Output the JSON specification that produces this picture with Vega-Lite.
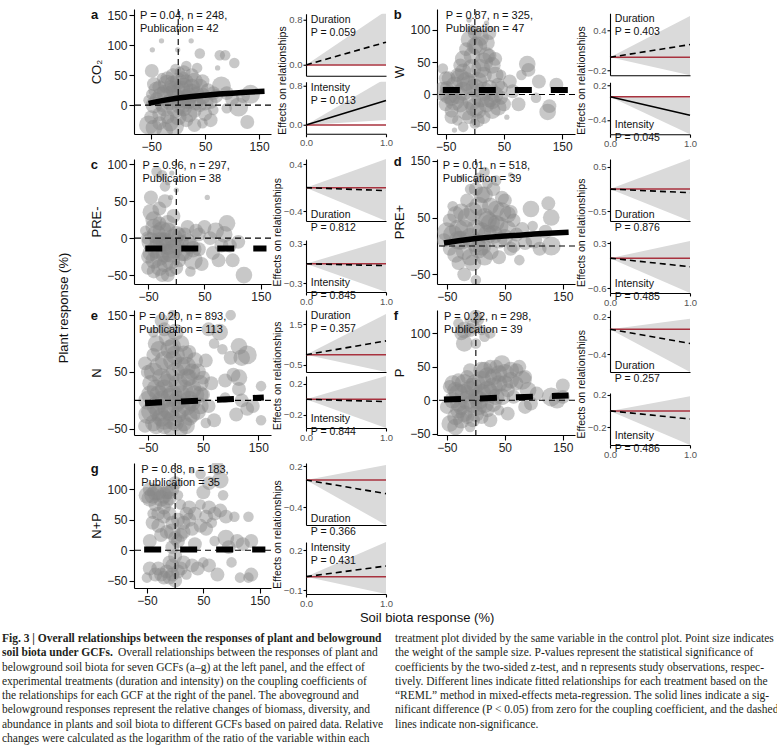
{
"$schema": "https://vega.github.io/schema/vega-lite/v6.json",
"padding": {"left": 2, "right": 0, "top": 8, "bottom": 0},
"config": {
  "view": {"stroke": null},
  "font": "Liberation Sans",
  "axis": {"grid": false, "domainColor": "#000", "tickColor": "#000", "labelColor": "#222", "labelFontSize": 12, "titleFontSize": 13, "titleFontWeight": "normal", "titleColor": "#111", "labelFlush": false, "labelOverlap": false, "tickSize": 5, "domainWidth": 1.1, "tickWidth": 1.1, "labelPadding": 2, "titlePadding": 3},
  "title": {"fontWeight": "normal", "color": "#111"},
  "text": {"color": "#111"}
},
"datasets": {
  "pts": [
{"p":"a","x":-48,"y":92,"w":1},{"p":"a","x":-31,"y":107,"w":1},{"p":"a","x":-1,"y":92,"w":1},{"p":"a","x":24,"y":107,"w":1},{"p":"a","x":40,"y":86,"w":2},{"p":"a","x":77,"y":83,"w":2},{"p":"a","x":87,"y":83,"w":2},{"p":"a","x":104,"y":70,"w":2},{"p":"a","x":73,"y":62,"w":1},{"p":"a","x":-49,"y":57,"w":3},{"p":"a","x":15,"y":65,"w":2},{"p":"a","x":35,"y":62,"w":2},{"p":"a","x":3,"y":55,"w":2},{"p":"a","x":-20,"y":45,"w":3},{"p":"a","x":-35,"y":30,"w":3},{"p":"a","x":-25,"y":20,"w":4},{"p":"a","x":-10,"y":35,"w":4},{"p":"a","x":5,"y":25,"w":5},{"p":"a","x":15,"y":40,"w":3},{"p":"a","x":25,"y":30,"w":4},{"p":"a","x":35,"y":20,"w":3},{"p":"a","x":45,"y":15,"w":4},{"p":"a","x":55,"y":25,"w":3},{"p":"a","x":-40,"y":10,"w":3},{"p":"a","x":-50,"y":18,"w":2},{"p":"a","x":-30,"y":0,"w":3},{"p":"a","x":-15,"y":5,"w":4},{"p":"a","x":0,"y":10,"w":5},{"p":"a","x":10,"y":-5,"w":4},{"p":"a","x":20,"y":5,"w":3},{"p":"a","x":30,"y":-10,"w":3},{"p":"a","x":40,"y":0,"w":3},{"p":"a","x":60,"y":5,"w":3},{"p":"a","x":70,"y":15,"w":3},{"p":"a","x":80,"y":32,"w":5},{"p":"a","x":90,"y":20,"w":3},{"p":"a","x":100,"y":10,"w":3},{"p":"a","x":112,"y":-3,"w":5},{"p":"a","x":120,"y":15,"w":3},{"p":"a","x":134,"y":18,"w":5},{"p":"a","x":128,"y":-28,"w":3},{"p":"a","x":-55,"y":-33,"w":5},{"p":"a","x":-45,"y":-38,"w":4},{"p":"a","x":-7,"y":-35,"w":5},{"p":"a","x":30,"y":-33,"w":3},{"p":"a","x":50,"y":-15,"w":3},{"p":"a","x":-20,"y":-20,"w":3},{"p":"a","x":0,"y":-20,"w":4},{"p":"a","x":15,"y":-25,"w":3},{"p":"a","x":-35,"y":-15,"w":3},{"p":"a","x":65,"y":-8,"w":2},{"p":"a","x":-5,"y":60,"w":2},{"p":"a","x":-15,"y":30,"w":3},{"p":"a","x":8,"y":45,"w":3},{"p":"a","x":45,"y":40,"w":3},{"p":"a","x":-30,"y":45,"w":2},{"p":"a","x":20,"y":15,"w":4},{"p":"a","x":-45,"y":35,"w":3},{"p":"a","x":60,"y":-25,"w":3},{"p":"a","x":-25,"y":-42,"w":4},{"p":"a","x":90,"y":-5,"w":2},{"p":"a","x":-10,"y":18,"w":5},{"p":"a","x":32,"y":5,"w":4},
{"p":"a","x":-40,"y":25,"w":4},{"p":"a","x":-30,"y":15,"w":5},{"p":"a","x":-20,"y":35,"w":5},{"p":"a","x":-5,"y":25,"w":5},{"p":"a","x":10,"y":30,"w":5},{"p":"a","x":25,"y":20,"w":5},{"p":"a","x":40,"y":30,"w":4},{"p":"a","x":-45,"y":0,"w":4},{"p":"a","x":-25,"y":-5,"w":4},{"p":"a","x":5,"y":0,"w":5},{"p":"a","x":15,"y":10,"w":5},{"p":"a","x":30,"y":40,"w":4},{"p":"a","x":-10,"y":50,"w":3},{"p":"a","x":50,"y":5,"w":4},{"p":"a","x":-35,"y":-30,"w":3},{"p":"a","x":-15,"y":-30,"w":4},{"p":"a","x":20,"y":-15,"w":4},{"p":"a","x":0,"y":40,"w":4},{"p":"a","x":10,"y":55,"w":3},{"p":"a","x":-50,"y":-20,"w":3},{"p":"a","x":65,"y":20,"w":3},{"p":"a","x":45,"y":-30,"w":2},{"p":"a","x":25,"y":50,"w":3},{"p":"a","x":-5,"y":-5,"w":5},{"p":"a","x":-55,"y":8,"w":2},
{"p":"b","x":-55,"y":5,"w":5},{"p":"b","x":-48,"y":10,"w":3},{"p":"b","x":-40,"y":-5,"w":4},{"p":"b","x":-35,"y":15,"w":4},{"p":"b","x":-30,"y":30,"w":3},{"p":"b","x":-25,"y":45,"w":3},{"p":"b","x":-20,"y":55,"w":4},{"p":"b","x":-15,"y":70,"w":3},{"p":"b","x":-10,"y":85,"w":4},{"p":"b","x":0,"y":95,"w":3},{"p":"b","x":5,"y":75,"w":5},{"p":"b","x":10,"y":88,"w":4},{"p":"b","x":20,"y":80,"w":4},{"p":"b","x":25,"y":60,"w":3},{"p":"b","x":15,"y":50,"w":5},{"p":"b","x":30,"y":45,"w":4},{"p":"b","x":35,"y":30,"w":4},{"p":"b","x":40,"y":15,"w":3},{"p":"b","x":-5,"y":40,"w":5},{"p":"b","x":-15,"y":20,"w":5},{"p":"b","x":0,"y":10,"w":5},{"p":"b","x":10,"y":-5,"w":5},{"p":"b","x":20,"y":-15,"w":4},{"p":"b","x":30,"y":-10,"w":4},{"p":"b","x":45,"y":-5,"w":3},{"p":"b","x":50,"y":-15,"w":3},{"p":"b","x":-25,"y":-15,"w":4},{"p":"b","x":-40,"y":-25,"w":3},{"p":"b","x":-30,"y":-40,"w":2},{"p":"b","x":-20,"y":-50,"w":2},{"p":"b","x":-10,"y":-35,"w":3},{"p":"b","x":0,"y":-45,"w":2},{"p":"b","x":5,"y":-25,"w":4},{"p":"b","x":15,"y":30,"w":4},{"p":"b","x":25,"y":10,"w":4},{"p":"b","x":-45,"y":25,"w":3},{"p":"b","x":-50,"y":-15,"w":3},{"p":"b","x":-5,"y":-10,"w":5},{"p":"b","x":-20,"y":5,"w":5},{"p":"b","x":35,"y":55,"w":3},{"p":"b","x":60,"y":20,"w":3},{"p":"b","x":65,"y":5,"w":3},{"p":"b","x":75,"y":-15,"w":3},{"p":"b","x":55,"y":-35,"w":1},{"p":"b","x":90,"y":47,"w":4},{"p":"b","x":92,"y":38,"w":3},{"p":"b","x":110,"y":20,"w":3},{"p":"b","x":125,"y":-27,"w":4},{"p":"b","x":128,"y":-18,"w":3},{"p":"b","x":140,"y":15,"w":3},{"p":"b","x":105,"y":-5,"w":2},{"p":"b","x":-35,"y":-55,"w":1},{"p":"b","x":-10,"y":115,"w":1},{"p":"b","x":20,"y":110,"w":1},{"p":"b","x":45,"y":30,"w":2},{"p":"b","x":-55,"y":40,"w":2},{"p":"b","x":80,"y":30,"w":2},
{"p":"b","x":-45,"y":0,"w":5},{"p":"b","x":-35,"y":-10,"w":5},{"p":"b","x":-25,"y":25,"w":5},{"p":"b","x":-10,"y":15,"w":5},{"p":"b","x":5,"y":20,"w":5},{"p":"b","x":15,"y":5,"w":5},{"p":"b","x":25,"y":-5,"w":5},{"p":"b","x":35,"y":0,"w":4},{"p":"b","x":-15,"y":-25,"w":5},{"p":"b","x":0,"y":-20,"w":5},{"p":"b","x":10,"y":40,"w":5},{"p":"b","x":20,"y":60,"w":4},{"p":"b","x":-5,"y":60,"w":4},{"p":"b","x":-20,"y":35,"w":4},{"p":"b","x":30,"y":-25,"w":4},{"p":"b","x":40,"y":-20,"w":4},{"p":"b","x":-30,"y":0,"w":5},{"p":"b","x":-40,"y":-35,"w":3},{"p":"b","x":5,"y":-40,"w":3},{"p":"b","x":15,"y":-35,"w":3},{"p":"b","x":-50,"y":25,"w":3},{"p":"b","x":0,"y":75,"w":4},{"p":"b","x":-5,"y":100,"w":2},{"p":"b","x":25,"y":95,"w":3},{"p":"b","x":45,"y":10,"w":3},
{"p":"c","x":-35,"y":90,"w":2},{"p":"c","x":-25,"y":85,"w":2},{"p":"c","x":-15,"y":75,"w":1},{"p":"c","x":-20,"y":70,"w":2},{"p":"c","x":-45,"y":35,"w":4},{"p":"c","x":-30,"y":40,"w":3},{"p":"c","x":-10,"y":55,"w":1},{"p":"c","x":-40,"y":15,"w":4},{"p":"c","x":-50,"y":0,"w":3},{"p":"c","x":-35,"y":5,"w":5},{"p":"c","x":-25,"y":-5,"w":5},{"p":"c","x":-15,"y":10,"w":4},{"p":"c","x":-5,"y":0,"w":5},{"p":"c","x":-45,"y":-20,"w":4},{"p":"c","x":-30,"y":-25,"w":5},{"p":"c","x":-20,"y":-35,"w":4},{"p":"c","x":-10,"y":-20,"w":5},{"p":"c","x":0,"y":-10,"w":4},{"p":"c","x":5,"y":-30,"w":3},{"p":"c","x":-40,"y":-45,"w":3},{"p":"c","x":-25,"y":-50,"w":3},{"p":"c","x":-10,"y":-45,"w":2},{"p":"c","x":10,"y":-5,"w":3},{"p":"c","x":15,"y":-20,"w":4},{"p":"c","x":25,"y":-10,"w":4},{"p":"c","x":30,"y":-30,"w":5},{"p":"c","x":40,"y":-15,"w":3},{"p":"c","x":35,"y":10,"w":3},{"p":"c","x":50,"y":15,"w":3},{"p":"c","x":20,"y":15,"w":3},{"p":"c","x":-5,"y":30,"w":3},{"p":"c","x":55,"y":55,"w":1},{"p":"c","x":60,"y":0,"w":3},{"p":"c","x":70,"y":10,"w":4},{"p":"c","x":85,"y":5,"w":4},{"p":"c","x":90,"y":20,"w":4},{"p":"c","x":95,"y":-10,"w":3},{"p":"c","x":75,"y":-30,"w":3},{"p":"c","x":100,"y":-30,"w":3},{"p":"c","x":120,"y":-50,"w":4},{"p":"c","x":110,"y":-5,"w":3},{"p":"c","x":-50,"y":-40,"w":3},{"p":"c","x":-15,"y":-10,"w":5},{"p":"c","x":5,"y":5,"w":3},{"p":"c","x":45,"y":-35,"w":3},{"p":"c","x":-30,"y":20,"w":3},{"p":"c","x":-55,"y":10,"w":2},{"p":"c","x":25,"y":-45,"w":2},{"p":"c","x":-8,"y":88,"w":1},{"p":"c","x":0,"y":65,"w":1},
{"p":"c","x":-45,"y":-5,"w":5},{"p":"c","x":-35,"y":-15,"w":5},{"p":"c","x":-25,"y":10,"w":5},{"p":"c","x":-20,"y":-20,"w":5},{"p":"c","x":-10,"y":-30,"w":5},{"p":"c","x":-5,"y":-15,"w":5},{"p":"c","x":0,"y":5,"w":4},{"p":"c","x":-30,"y":-40,"w":4},{"p":"c","x":-40,"y":-30,"w":4},{"p":"c","x":-15,"y":20,"w":4},{"p":"c","x":-20,"y":-5,"w":5},{"p":"c","x":10,"y":-20,"w":4},{"p":"c","x":20,"y":-5,"w":4},{"p":"c","x":30,"y":-15,"w":4},{"p":"c","x":-50,"y":-25,"w":3},{"p":"c","x":-30,"y":-5,"w":5},{"p":"c","x":-40,"y":25,"w":4},{"p":"c","x":0,"y":-40,"w":3},{"p":"c","x":-15,"y":-50,"w":3},{"p":"c","x":15,"y":5,"w":3},{"p":"c","x":40,"y":5,"w":3},{"p":"c","x":-45,"y":55,"w":3},{"p":"c","x":-20,"y":50,"w":3},{"p":"c","x":65,"y":-20,"w":3},{"p":"c","x":80,"y":-10,"w":3},
{"p":"d","x":-50,"y":25,"w":5},{"p":"d","x":-45,"y":45,"w":3},{"p":"d","x":-40,"y":70,"w":2},{"p":"d","x":-35,"y":55,"w":4},{"p":"d","x":-30,"y":30,"w":5},{"p":"d","x":-25,"y":10,"w":5},{"p":"d","x":-20,"y":-10,"w":4},{"p":"d","x":-15,"y":80,"w":3},{"p":"d","x":-10,"y":100,"w":2},{"p":"d","x":-5,"y":60,"w":5},{"p":"d","x":0,"y":30,"w":5},{"p":"d","x":5,"y":120,"w":2},{"p":"d","x":10,"y":90,"w":4},{"p":"d","x":15,"y":50,"w":5},{"p":"d","x":20,"y":20,"w":5},{"p":"d","x":25,"y":70,"w":4},{"p":"d","x":30,"y":100,"w":3},{"p":"d","x":35,"y":40,"w":4},{"p":"d","x":40,"y":10,"w":4},{"p":"d","x":45,"y":60,"w":5},{"p":"d","x":50,"y":80,"w":3},{"p":"d","x":55,"y":30,"w":4},{"p":"d","x":60,"y":-5,"w":3},{"p":"d","x":65,"y":45,"w":3},{"p":"d","x":70,"y":20,"w":3},{"p":"d","x":75,"y":-25,"w":2},{"p":"d","x":-10,"y":-20,"w":4},{"p":"d","x":5,"y":-5,"w":5},{"p":"d","x":25,"y":-10,"w":4},{"p":"d","x":-30,"y":-30,"w":3},{"p":"d","x":-20,"y":-50,"w":3},{"p":"d","x":0,"y":-60,"w":2},{"p":"d","x":-45,"y":-5,"w":3},{"p":"d","x":15,"y":130,"w":2},{"p":"d","x":60,"y":125,"w":1},{"p":"d","x":95,"y":65,"w":4},{"p":"d","x":98,"y":35,"w":2},{"p":"d","x":125,"y":75,"w":3},{"p":"d","x":130,"y":50,"w":4},{"p":"d","x":130,"y":0,"w":5},{"p":"d","x":120,"y":25,"w":3},{"p":"d","x":100,"y":10,"w":4},{"p":"d","x":110,"y":-5,"w":3},{"p":"d","x":85,"y":5,"w":3},{"p":"d","x":-55,"y":10,"w":3},{"p":"d","x":35,"y":115,"w":2},{"p":"d","x":-25,"y":120,"w":1},{"p":"d","x":10,"y":0,"w":5},{"p":"d","x":40,"y":-20,"w":3},{"p":"d","x":80,"y":30,"w":3},
{"p":"d","x":-40,"y":20,"w":5},{"p":"d","x":-30,"y":10,"w":5},{"p":"d","x":-20,"y":30,"w":5},{"p":"d","x":-10,"y":15,"w":5},{"p":"d","x":0,"y":5,"w":5},{"p":"d","x":10,"y":25,"w":5},{"p":"d","x":20,"y":45,"w":5},{"p":"d","x":30,"y":20,"w":5},{"p":"d","x":40,"y":35,"w":5},{"p":"d","x":50,"y":15,"w":4},{"p":"d","x":-15,"y":50,"w":5},{"p":"d","x":5,"y":70,"w":5},{"p":"d","x":15,"y":90,"w":4},{"p":"d","x":25,"y":40,"w":5},{"p":"d","x":35,"y":65,"w":4},{"p":"d","x":-5,"y":-30,"w":4},{"p":"d","x":15,"y":-20,"w":4},{"p":"d","x":-35,"y":-15,"w":4},{"p":"d","x":55,"y":55,"w":4},{"p":"d","x":65,"y":0,"w":3},{"p":"d","x":-25,"y":60,"w":4},{"p":"d","x":0,"y":100,"w":3},{"p":"d","x":20,"y":110,"w":2},{"p":"d","x":45,"y":85,"w":3},{"p":"d","x":60,"y":60,"w":3},
{"p":"e","x":-50,"y":50,"w":3},{"p":"e","x":-45,"y":30,"w":4},{"p":"e","x":-40,"y":80,"w":3},{"p":"e","x":-35,"y":100,"w":4},{"p":"e","x":-30,"y":60,"w":5},{"p":"e","x":-25,"y":40,"w":5},{"p":"e","x":-20,"y":20,"w":5},{"p":"e","x":-15,"y":110,"w":4},{"p":"e","x":-10,"y":90,"w":5},{"p":"e","x":-5,"y":70,"w":5},{"p":"e","x":0,"y":50,"w":5},{"p":"e","x":5,"y":30,"w":5},{"p":"e","x":10,"y":100,"w":4},{"p":"e","x":15,"y":80,"w":5},{"p":"e","x":20,"y":60,"w":5},{"p":"e","x":25,"y":40,"w":4},{"p":"e","x":30,"y":20,"w":5},{"p":"e","x":35,"y":70,"w":4},{"p":"e","x":40,"y":50,"w":4},{"p":"e","x":45,"y":30,"w":4},{"p":"e","x":50,"y":10,"w":3},{"p":"e","x":-50,"y":0,"w":5},{"p":"e","x":-45,"y":-20,"w":5},{"p":"e","x":-40,"y":-40,"w":4},{"p":"e","x":-35,"y":-10,"w":5},{"p":"e","x":-30,"y":10,"w":5},{"p":"e","x":-25,"y":-30,"w":5},{"p":"e","x":-20,"y":-45,"w":4},{"p":"e","x":-15,"y":-15,"w":5},{"p":"e","x":-10,"y":5,"w":5},{"p":"e","x":-5,"y":-35,"w":5},{"p":"e","x":0,"y":-5,"w":5},{"p":"e","x":5,"y":-25,"w":4},{"p":"e","x":10,"y":10,"w":5},{"p":"e","x":15,"y":-40,"w":4},{"p":"e","x":20,"y":-10,"w":5},{"p":"e","x":25,"y":-30,"w":4},{"p":"e","x":30,"y":-5,"w":4},{"p":"e","x":40,"y":-20,"w":4},{"p":"e","x":45,"y":10,"w":4},{"p":"e","x":-25,"y":140,"w":3},{"p":"e","x":-20,"y":125,"w":3},{"p":"e","x":0,"y":120,"w":4},{"p":"e","x":-55,"y":65,"w":3},{"p":"e","x":-40,"y":120,"w":2},{"p":"e","x":-5,"y":150,"w":2},{"p":"e","x":55,"y":70,"w":3},{"p":"e","x":60,"y":-10,"w":3},{"p":"e","x":65,"y":30,"w":3},{"p":"e","x":70,"y":-35,"w":3},{"p":"e","x":55,"y":-40,"w":2},{"p":"e","x":-55,"y":-45,"w":3},{"p":"e","x":-10,"y":-50,"w":3},{"p":"e","x":10,"y":-52,"w":3},{"p":"e","x":100,"y":150,"w":2},{"p":"e","x":80,"y":120,"w":4},{"p":"e","x":60,"y":125,"w":3},{"p":"e","x":70,"y":100,"w":2},{"p":"e","x":85,"y":90,"w":2},{"p":"e","x":100,"y":75,"w":3},{"p":"e","x":115,"y":95,"w":4},{"p":"e","x":120,"y":75,"w":4},{"p":"e","x":130,"y":80,"w":5},{"p":"e","x":115,"y":40,"w":4},{"p":"e","x":105,"y":45,"w":3},{"p":"e","x":90,"y":35,"w":3},{"p":"e","x":115,"y":20,"w":3},{"p":"e","x":90,"y":5,"w":2},{"p":"e","x":120,"y":0,"w":3},{"p":"e","x":155,"y":25,"w":2},{"p":"e","x":155,"y":-35,"w":2},{"p":"e","x":130,"y":-15,"w":3},{"p":"e","x":140,"y":-10,"w":3},{"p":"e","x":110,"y":-25,"w":3},
{"p":"e","x":-45,"y":10,"w":5},{"p":"e","x":-35,"y":20,"w":5},{"p":"e","x":-25,"y":0,"w":5},{"p":"e","x":-15,"y":30,"w":5},{"p":"e","x":-5,"y":10,"w":5},{"p":"e","x":5,"y":0,"w":5},{"p":"e","x":15,"y":20,"w":5},{"p":"e","x":25,"y":0,"w":5},{"p":"e","x":35,"y":10,"w":5},{"p":"e","x":-40,"y":50,"w":5},{"p":"e","x":-20,"y":70,"w":5},{"p":"e","x":0,"y":80,"w":5},{"p":"e","x":20,"y":40,"w":5},{"p":"e","x":-30,"y":90,"w":4},{"p":"e","x":-10,"y":40,"w":5},{"p":"e","x":10,"y":60,"w":5},{"p":"e","x":30,"y":50,"w":4},{"p":"e","x":-50,"y":-25,"w":5},{"p":"e","x":-30,"y":-20,"w":5},{"p":"e","x":-10,"y":-20,"w":5},{"p":"e","x":10,"y":-15,"w":5},{"p":"e","x":30,"y":-25,"w":4},{"p":"e","x":-20,"y":-35,"w":5},{"p":"e","x":0,"y":-40,"w":4},{"p":"e","x":20,"y":-45,"w":4},{"p":"e","x":-35,"y":-45,"w":4},{"p":"e","x":-5,"y":95,"w":4},{"p":"e","x":25,"y":85,"w":3},{"p":"e","x":45,"y":-10,"w":4},{"p":"e","x":50,"y":40,"w":3},
{"p":"f","x":-20,"y":105,"w":4},{"p":"f","x":-25,"y":100,"w":3},{"p":"f","x":0,"y":125,"w":3},{"p":"f","x":5,"y":120,"w":2},{"p":"f","x":10,"y":105,"w":2},{"p":"f","x":15,"y":95,"w":2},{"p":"f","x":-5,"y":110,"w":3},{"p":"f","x":25,"y":100,"w":2},{"p":"f","x":-20,"y":85,"w":4},{"p":"f","x":0,"y":85,"w":2},{"p":"f","x":-15,"y":120,"w":1},{"p":"f","x":-45,"y":20,"w":3},{"p":"f","x":-40,"y":0,"w":4},{"p":"f","x":-35,"y":15,"w":4},{"p":"f","x":-30,"y":30,"w":3},{"p":"f","x":-25,"y":-10,"w":4},{"p":"f","x":-20,"y":10,"w":5},{"p":"f","x":-15,"y":35,"w":3},{"p":"f","x":-10,"y":45,"w":3},{"p":"f","x":-5,"y":20,"w":5},{"p":"f","x":0,"y":5,"w":4},{"p":"f","x":5,"y":-10,"w":4},{"p":"f","x":10,"y":30,"w":5},{"p":"f","x":15,"y":45,"w":4},{"p":"f","x":20,"y":15,"w":5},{"p":"f","x":25,"y":50,"w":3},{"p":"f","x":30,"y":35,"w":4},{"p":"f","x":35,"y":5,"w":4},{"p":"f","x":40,"y":25,"w":4},{"p":"f","x":45,"y":55,"w":4},{"p":"f","x":50,"y":40,"w":5},{"p":"f","x":55,"y":15,"w":3},{"p":"f","x":60,"y":30,"w":4},{"p":"f","x":70,"y":45,"w":3},{"p":"f","x":75,"y":50,"w":3},{"p":"f","x":80,"y":30,"w":5},{"p":"f","x":85,"y":-10,"w":3},{"p":"f","x":95,"y":-5,"w":3},{"p":"f","x":90,"y":15,"w":4},{"p":"f","x":-45,"y":-35,"w":4},{"p":"f","x":-35,"y":-40,"w":4},{"p":"f","x":-25,"y":-30,"w":4},{"p":"f","x":-15,"y":-25,"w":3},{"p":"f","x":-10,"y":-40,"w":2},{"p":"f","x":0,"y":-20,"w":4},{"p":"f","x":10,"y":-25,"w":3},{"p":"f","x":20,"y":-15,"w":3},{"p":"f","x":30,"y":-5,"w":4},{"p":"f","x":40,"y":-15,"w":2},{"p":"f","x":-50,"y":-10,"w":3},{"p":"f","x":-30,"y":-15,"w":4},{"p":"f","x":65,"y":5,"w":3},{"p":"f","x":105,"y":10,"w":3},{"p":"f","x":130,"y":5,"w":5},{"p":"f","x":140,"y":0,"w":4},{"p":"f","x":150,"y":5,"w":3},{"p":"f","x":150,"y":22,"w":3},{"p":"f","x":55,"y":-20,"w":3},{"p":"f","x":25,"y":-30,"w":3},{"p":"f","x":-5,"y":-5,"w":5},{"p":"f","x":10,"y":10,"w":5},
{"p":"f","x":-40,"y":25,"w":4},{"p":"f","x":-30,"y":10,"w":5},{"p":"f","x":-20,"y":25,"w":5},{"p":"f","x":-10,"y":15,"w":5},{"p":"f","x":0,"y":25,"w":5},{"p":"f","x":10,"y":45,"w":4},{"p":"f","x":20,"y":35,"w":5},{"p":"f","x":30,"y":20,"w":5},{"p":"f","x":40,"y":40,"w":4},{"p":"f","x":50,"y":25,"w":4},{"p":"f","x":60,"y":45,"w":4},{"p":"f","x":-15,"y":0,"w":5},{"p":"f","x":5,"y":0,"w":5},{"p":"f","x":15,"y":-5,"w":5},{"p":"f","x":25,"y":10,"w":5},{"p":"f","x":-35,"y":-25,"w":4},{"p":"f","x":-20,"y":-20,"w":4},{"p":"f","x":-5,"y":-30,"w":3},{"p":"f","x":45,"y":5,"w":4},{"p":"f","x":70,"y":25,"w":3},{"p":"f","x":-30,"y":-5,"w":4},{"p":"f","x":-10,"y":105,"w":3},{"p":"f","x":-30,"y":115,"w":2},{"p":"f","x":35,"y":50,"w":3},{"p":"f","x":85,"y":35,"w":3},
{"p":"g","x":-50,"y":90,"w":4},{"p":"g","x":-40,"y":90,"w":4},{"p":"g","x":-30,"y":95,"w":4},{"p":"g","x":-20,"y":90,"w":4},{"p":"g","x":-10,"y":95,"w":3},{"p":"g","x":-5,"y":100,"w":3},{"p":"g","x":-35,"y":75,"w":3},{"p":"g","x":-15,"y":80,"w":3},{"p":"g","x":0,"y":110,"w":3},{"p":"g","x":5,"y":90,"w":2},{"p":"g","x":-45,"y":100,"w":3},{"p":"g","x":10,"y":75,"w":2},{"p":"g","x":30,"y":130,"w":1},{"p":"g","x":45,"y":125,"w":2},{"p":"g","x":75,"y":135,"w":3},{"p":"g","x":60,"y":110,"w":3},{"p":"g","x":80,"y":115,"w":4},{"p":"g","x":85,"y":90,"w":2},{"p":"g","x":50,"y":95,"w":3},{"p":"g","x":60,"y":70,"w":3},{"p":"g","x":70,"y":60,"w":3},{"p":"g","x":80,"y":65,"w":3},{"p":"g","x":90,"y":55,"w":3},{"p":"g","x":105,"y":55,"w":2},{"p":"g","x":130,"y":55,"w":2},{"p":"g","x":45,"y":75,"w":2},{"p":"g","x":55,"y":35,"w":3},{"p":"g","x":45,"y":40,"w":3},{"p":"g","x":25,"y":70,"w":3},{"p":"g","x":20,"y":60,"w":3},{"p":"g","x":15,"y":45,"w":3},{"p":"g","x":30,"y":35,"w":3},{"p":"g","x":10,"y":25,"w":3},{"p":"g","x":5,"y":15,"w":3},{"p":"g","x":-5,"y":5,"w":3},{"p":"g","x":-15,"y":30,"w":3},{"p":"g","x":-25,"y":25,"w":3},{"p":"g","x":-20,"y":55,"w":3},{"p":"g","x":-40,"y":45,"w":3},{"p":"g","x":-10,"y":60,"w":3},{"p":"g","x":-30,"y":60,"w":3},{"p":"g","x":-5,"y":30,"w":4},{"p":"g","x":70,"y":15,"w":2},{"p":"g","x":90,"y":20,"w":4},{"p":"g","x":95,"y":5,"w":3},{"p":"g","x":110,"y":15,"w":3},{"p":"g","x":120,"y":10,"w":3},{"p":"g","x":135,"y":15,"w":3},{"p":"g","x":100,"y":-20,"w":2},{"p":"g","x":115,"y":-45,"w":2},{"p":"g","x":135,"y":-40,"w":3},{"p":"g","x":130,"y":-45,"w":2},{"p":"g","x":75,"y":-40,"w":3},{"p":"g","x":60,"y":-25,"w":3},{"p":"g","x":40,"y":-30,"w":3},{"p":"g","x":30,"y":-25,"w":3},{"p":"g","x":10,"y":-30,"w":3},{"p":"g","x":-5,"y":-40,"w":3},{"p":"g","x":-15,"y":-35,"w":3},{"p":"g","x":-30,"y":-30,"w":3},{"p":"g","x":-45,"y":-30,"w":3},{"p":"g","x":-50,"y":-45,"w":2},{"p":"g","x":-20,"y":-45,"w":3},{"p":"g","x":0,"y":-50,"w":3},{"p":"g","x":20,"y":-40,"w":2},{"p":"g","x":-10,"y":-20,"w":3},{"p":"g","x":0,"y":-10,"w":3},
{"p":"g","x":-45,"y":85,"w":4},{"p":"g","x":-25,"y":85,"w":4},{"p":"g","x":-15,"y":95,"w":3},{"p":"g","x":-35,"y":95,"w":4},{"p":"g","x":-10,"y":85,"w":3},{"p":"g","x":-20,"y":70,"w":3},{"p":"g","x":5,"y":50,"w":3},{"p":"g","x":-5,"y":45,"w":3},{"p":"g","x":15,"y":30,"w":3},{"p":"g","x":25,"y":50,"w":3},{"p":"g","x":35,"y":60,"w":3},{"p":"g","x":-30,"y":40,"w":3},{"p":"g","x":-45,"y":15,"w":3},{"p":"g","x":-35,"y":-40,"w":3},{"p":"g","x":-25,"y":-40,"w":3},{"p":"g","x":-10,"y":-45,"w":3},{"p":"g","x":5,"y":-35,"w":3},{"p":"g","x":-5,"y":-25,"w":3},{"p":"g","x":15,"y":-20,"w":3},{"p":"g","x":-40,"y":60,"w":2},{"p":"g","x":55,"y":55,"w":3},{"p":"g","x":65,"y":45,"w":2},{"p":"g","x":0,"y":20,"w":3},{"p":"g","x":35,"y":10,"w":3},{"p":"g","x":50,"y":-20,"w":2}
  ],
  "fit": [
{"p":"a","x":-55,"y":3},{"p":"a","x":-30,"y":7.5},{"p":"a","x":0,"y":12},{"p":"a","x":25,"y":14.5},{"p":"a","x":50,"y":16.5},{"p":"a","x":75,"y":18.5},{"p":"a","x":100,"y":20},{"p":"a","x":125,"y":21.5},{"p":"a","x":160,"y":23},
{"p":"b","x":-55,"y":7},{"p":"b","x":160,"y":7},
{"p":"c","x":-55,"y":-14},{"p":"c","x":160,"y":-14},
{"p":"d","x":-55,"y":5},{"p":"d","x":-30,"y":9},{"p":"d","x":0,"y":13},{"p":"d","x":25,"y":15.5},{"p":"d","x":50,"y":17.5},{"p":"d","x":75,"y":19},{"p":"d","x":100,"y":21},{"p":"d","x":125,"y":22.5},{"p":"d","x":160,"y":24},
{"p":"e","x":-55,"y":-5},{"p":"e","x":160,"y":5},
{"p":"f","x":-55,"y":1},{"p":"f","x":160,"y":7},
{"p":"g","x":-55,"y":1},{"p":"g","x":160,"y":1}
  ],
  "ann": [
{"p":"a","t":"P = 0.04, n = 248,\nPublication = 42"},
{"p":"b","t":"P = 0.87, n = 325,\nPublication = 47"},
{"p":"c","t":"P = 0.96, n = 297,\nPublication = 38"},
{"p":"d","t":"P = 0.01, n = 518,\nPublication = 39"},
{"p":"e","t":"P = 0.20, n = 893,\nPublication = 113"},
{"p":"f","t":"P = 0.22, n = 298,\nPublication = 39"},
{"p":"g","t":"P = 0.68, n = 183,\nPublication = 35"}
  ],
  "sub": [
{"p":"a","v":"D","x":0,"lo":0,"hi":0,"f":0},{"p":"a","v":"D","x":1,"lo":0.01,"hi":0.95,"f":0.4},
{"p":"a","v":"I","x":0,"lo":0,"hi":0,"f":0},{"p":"a","v":"I","x":1,"lo":0.1,"hi":0.95,"f":0.5},
{"p":"b","v":"D","x":0,"lo":0,"hi":0,"f":0},{"p":"b","v":"D","x":1,"lo":-0.27,"hi":0.62,"f":0.19},
{"p":"b","v":"I","x":0,"lo":0,"hi":0,"f":0},{"p":"b","v":"I","x":1,"lo":-0.65,"hi":-0.02,"f":-0.32},
{"p":"c","v":"D","x":0,"lo":0,"hi":0,"f":0},{"p":"c","v":"D","x":1,"lo":-0.57,"hi":0.49,"f":-0.05},
{"p":"c","v":"I","x":0,"lo":0,"hi":0,"f":0},{"p":"c","v":"I","x":1,"lo":-0.43,"hi":0.36,"f":-0.03},
{"p":"d","v":"D","x":0,"lo":0,"hi":0,"f":0},{"p":"d","v":"D","x":1,"lo":-0.72,"hi":0.68,"f":-0.08},
{"p":"d","v":"I","x":0,"lo":0,"hi":0,"f":0},{"p":"d","v":"I","x":1,"lo":-0.69,"hi":0.34,"f":-0.17},
{"p":"e","v":"D","x":0,"lo":0,"hi":0,"f":0},{"p":"e","v":"D","x":1,"lo":-0.85,"hi":2.0,"f":0.68},
{"p":"e","v":"I","x":0,"lo":0,"hi":0,"f":0},{"p":"e","v":"I","x":1,"lo":-0.37,"hi":0.3,"f":-0.03},
{"p":"f","v":"D","x":0,"lo":0,"hi":0,"f":0},{"p":"f","v":"D","x":1,"lo":-0.69,"hi":0.17,"f":-0.23},
{"p":"f","v":"I","x":0,"lo":0,"hi":0,"f":0},{"p":"f","v":"I","x":1,"lo":-0.42,"hi":0.18,"f":-0.1},
{"p":"g","v":"D","x":0,"lo":0,"hi":0,"f":0},{"p":"g","v":"D","x":1,"lo":-0.66,"hi":0.22,"f":-0.2},
{"p":"g","v":"I","x":0,"lo":0,"hi":0,"f":0},{"p":"g","v":"I","x":1,"lo":-0.13,"hi":0.26,"f":0.08}
  ],
  "subann": [
{"p":"a","v":"D","t":"Duration\nP = 0.059"},{"p":"a","v":"I","t":"Intensity\nP = 0.013"},
{"p":"b","v":"D","t":"Duration\nP = 0.403"},{"p":"b","v":"I","t":"Intensity\nP = 0.045"},
{"p":"c","v":"D","t":"Duration\nP = 0.812"},{"p":"c","v":"I","t":"Intensity\nP = 0.845"},
{"p":"d","v":"D","t":"Duration\nP = 0.876"},{"p":"d","v":"I","t":"Intensity\nP = 0.485"},
{"p":"e","v":"D","t":"Duration\nP = 0.357"},{"p":"e","v":"I","t":"Intensity\nP = 0.844"},
{"p":"f","v":"D","t":"Duration\nP = 0.257"},{"p":"f","v":"I","t":"Intensity\nP = 0.486"},
{"p":"g","v":"D","t":"Duration\nP = 0.366"},{"p":"g","v":"I","t":"Intensity\nP = 0.431"}
  ],
  "cap": [
{"c":0,"l":3,"t":"belowground soil biota for seven GCFs (a–g) at the left panel, and the effect of"},
{"c":0,"l":4,"t":"experimental treatments (duration and intensity) on the coupling coefficients of"},
{"c":0,"l":5,"t":"the relationships for each GCF at the right of the panel. The aboveground and"},
{"c":0,"l":6,"t":"belowground responses represent the relative changes of biomass, diversity, and"},
{"c":0,"l":7,"t":"abundance in plants and soil biota to different GCFs based on paired data. Relative"},
{"c":0,"l":8,"t":"changes were calculated as the logarithm of the ratio of the variable within each"},
{"c":1,"l":1,"t":"treatment plot divided by the same variable in the control plot. Point size indicates"},
{"c":1,"l":2,"t":"the weight of the sample size. P-values represent the statistical significance of"},
{"c":1,"l":3,"t":"coefficients by the two-sided z-test, and n represents study observations, respec-"},
{"c":1,"l":4,"t":"tively. Different lines indicate fitted relationships for each treatment based on the"},
{"c":1,"l":5,"t":"“REML” method in mixed-effects meta-regression. The solid lines indicate a sig-"},
{"c":1,"l":6,"t":"nificant difference (P < 0.05) from zero for the coupling coefficient, and the dashed"},
{"c":1,"l":7,"t":"lines indicate non-significance."}
  ],
  "caphead": [
{"c":0,"l":1,"t":"Fig. 3 | Overall relationships between the responses of plant and belowground"},
{"c":0,"l":2,"t":"soil biota under GCFs."}
  ],
  "capcont": [
{"c":0,"l":2,"t":"Overall relationships between the responses of plant and"}
  ]
},
"spacing": 8,
"vconcat": [
 {"hconcat": [
  {"width": 35, "height": 10, "data": {"values": []}, "mark": "point", "encoding": {}},
  {"title": {"text": "Soil biota response (%)", "orient": "bottom", "anchor": "middle", "fontSize": 13, "offset": 4, "dx": 50},
   "vconcat": [
    {"title": {"text": "Plant response (%)", "orient": "left", "anchor": "middle", "fontSize": 13, "offset": 20},
     "columns": 4,
     "align": "each",
     "spacing": {"row": 2, "column": 0},
     "center": {"row": true, "column": false},
     "concat": [
      {"width": 137, "height": 125,
       "title": {"text": "a", "anchor": "start", "frame": "bounds", "offset": -14, "fontSize": 13, "fontWeight": "bold"},
       "layer": [
        {"data": {"name": "pts"}, "transform": [{"filter": "datum.p == 'a'"}], "mark": {"type": "circle", "color": "#888888", "opacity": 0.46, "clip": true},
         "encoding": {"x": {"field": "x", "type": "quantitative", "scale": {"domain": [-82, 172], "nice": false, "zero": false}, "axis": {"values": [-50, 0, 50, 100, 150], "title": null}},
                      "y": {"field": "y", "type": "quantitative", "scale": {"domain": [-48, 160], "nice": false, "zero": false}, "axis": {"values": [0, 50, 100, 150], "title": "CO₂"}},
                      "size": {"field": "w", "type": "quantitative", "scale": {"domain": [1, 5], "range": [28, 360]}, "legend": null}}},
        {"data": {"values": [{}]}, "mark": {"type": "rule", "strokeDash": [6, 4], "color": "black", "strokeWidth": 1.1}, "encoding": {"y": {"datum": 0}}},
        {"data": {"values": [{}]}, "mark": {"type": "rule", "strokeDash": [6, 4], "color": "black", "strokeWidth": 1.1}, "encoding": {"x": {"datum": 0}}},
        {"data": {"name": "fit"}, "transform": [{"filter": "datum.p == 'a'"}], "mark": {"type": "line", "color": "black", "strokeWidth": 5.5, "clip": true}, "encoding": {"x": {"field": "x", "type": "quantitative"}, "y": {"field": "y", "type": "quantitative"}}},
        {"data": {"name": "ann"}, "transform": [{"filter": "datum.p == 'a'"}], "mark": {"type": "text", "align": "left", "baseline": "top", "lineBreak": "\n", "fontSize": 11, "lineHeight": 12.5, "dy": 1}, "encoding": {"x": {"datum": -71}, "y": {"datum": 160}, "text": {"field": "t"}}}
       ]},
      {"title": {"text": "Effects on relationships", "orient": "left", "anchor": "middle", "fontSize": 10.5, "offset": 0},
       "spacing": 4,
       "vconcat": [
        {"width": 80, "height": 62, "layer": [
          {"data": {"name": "sub"}, "transform": [{"filter": "datum.p == 'a' && datum.v == 'D'"}], "mark": {"type": "area", "color": "#dadada", "clip": true},
           "encoding": {"x": {"field": "x", "type": "quantitative", "scale": {"domain": [0, 1], "nice": false}, "axis": {"labels": false, "ticks": false, "title": null}},
                        "y": {"field": "lo", "type": "quantitative", "scale": {"domain": [-0.19, 0.9], "nice": false, "zero": false}, "axis": {"values": [0, 0.4, 0.8], "format": ".1f", "title": null, "labelFontSize": 9.5, "labelColor": "#555", "tickSize": 3, "labelPadding": 1}},
                        "y2": {"field": "hi"}}},
          {"data": {"values": [{}]}, "mark": {"type": "rule", "color": "#a8323e", "strokeWidth": 1.5}, "encoding": {"y": {"datum": 0}}},
          {"data": {"name": "sub"}, "transform": [{"filter": "datum.p == 'a' && datum.v == 'D'"}], "mark": {"type": "line", "color": "black", "strokeWidth": 1.6, "strokeDash": [6, 4]}, "encoding": {"x": {"field": "x", "type": "quantitative"}, "y": {"field": "f", "type": "quantitative"}}},
          {"data": {"name": "subann"}, "transform": [{"filter": "datum.p == 'a' && datum.v == 'D'"}], "mark": {"type": "text", "align": "left", "baseline": "top", "lineBreak": "\n", "fontSize": 10.5, "lineHeight": 13, "dy": 1}, "encoding": {"x": {"datum": 0.06}, "y": {"datum": 0.9}, "text": {"field": "t"}}}
        ]},
        {"width": 80, "height": 52, "layer": [
          {"data": {"name": "sub"}, "transform": [{"filter": "datum.p == 'a' && datum.v == 'I'"}], "mark": {"type": "area", "color": "#dadada", "clip": true},
           "encoding": {"x": {"field": "x", "type": "quantitative", "scale": {"domain": [0, 1], "nice": false}, "axis": {"values": [0, 0.5, 1], "format": ".1f", "title": null, "labelFontSize": 9.5, "labelColor": "#555", "tickSize": 3, "labelPadding": 1}},
                        "y": {"field": "lo", "type": "quantitative", "scale": {"domain": [-0.18, 0.88], "nice": false, "zero": false}, "axis": {"values": [0, 0.4, 0.8], "format": ".1f", "title": null, "labelFontSize": 9.5, "labelColor": "#555", "tickSize": 3, "labelPadding": 1}},
                        "y2": {"field": "hi"}}},
          {"data": {"values": [{}]}, "mark": {"type": "rule", "color": "#a8323e", "strokeWidth": 1.5}, "encoding": {"y": {"datum": 0}}},
          {"data": {"name": "sub"}, "transform": [{"filter": "datum.p == 'a' && datum.v == 'I'"}], "mark": {"type": "line", "color": "black", "strokeWidth": 1.6}, "encoding": {"x": {"field": "x", "type": "quantitative"}, "y": {"field": "f", "type": "quantitative"}}},
          {"data": {"name": "subann"}, "transform": [{"filter": "datum.p == 'a' && datum.v == 'I'"}], "mark": {"type": "text", "align": "left", "baseline": "top", "lineBreak": "\n", "fontSize": 10.5, "lineHeight": 13, "dy": 1}, "encoding": {"x": {"datum": 0.06}, "y": {"datum": 0.88}, "text": {"field": "t"}}}
        ]}
       ]},
      {"width": 138, "height": 125,
       "title": {"text": "b", "anchor": "start", "frame": "bounds", "offset": -14, "fontSize": 13, "fontWeight": "bold"},
       "layer": [
        {"data": {"name": "pts"}, "transform": [{"filter": "datum.p == 'b'"}], "mark": {"type": "circle", "color": "#888888", "opacity": 0.46, "clip": true},
         "encoding": {"x": {"field": "x", "type": "quantitative", "scale": {"domain": [-65, 172], "nice": false, "zero": false}, "axis": {"values": [-50, 0, 50, 100, 150], "title": null}},
                      "y": {"field": "y", "type": "quantitative", "scale": {"domain": [-61, 132], "nice": false, "zero": false}, "axis": {"values": [-50, 0, 50, 100], "title": "W"}},
                      "size": {"field": "w", "type": "quantitative", "scale": {"domain": [1, 5], "range": [28, 360]}, "legend": null}}},
        {"data": {"values": [{}]}, "mark": {"type": "rule", "strokeDash": [6, 4], "color": "black", "strokeWidth": 1.1}, "encoding": {"y": {"datum": 0}}},
        {"data": {"values": [{}]}, "mark": {"type": "rule", "strokeDash": [6, 4], "color": "black", "strokeWidth": 1.1}, "encoding": {"x": {"datum": 0}}},
        {"data": {"name": "fit"}, "transform": [{"filter": "datum.p == 'b'"}], "mark": {"type": "line", "color": "black", "strokeWidth": 6, "strokeDash": [17, 19], "clip": true}, "encoding": {"x": {"field": "x", "type": "quantitative"}, "y": {"field": "y", "type": "quantitative"}}},
        {"data": {"name": "ann"}, "transform": [{"filter": "datum.p == 'b'"}], "mark": {"type": "text", "align": "left", "baseline": "top", "lineBreak": "\n", "fontSize": 11, "lineHeight": 12.5, "dy": 1}, "encoding": {"x": {"datum": -50}, "y": {"datum": 132}, "text": {"field": "t"}}}
       ]},
      {"title": {"text": "Effects on relationships", "orient": "left", "anchor": "middle", "fontSize": 10.5, "offset": 0},
       "spacing": 4,
       "vconcat": [
        {"width": 80, "height": 62, "layer": [
          {"data": {"name": "sub"}, "transform": [{"filter": "datum.p == 'b' && datum.v == 'D'"}], "mark": {"type": "area", "color": "#dadada", "clip": true},
           "encoding": {"x": {"field": "x", "type": "quantitative", "scale": {"domain": [0, 1], "nice": false}, "axis": {"labels": false, "ticks": false, "title": null}},
                        "y": {"field": "lo", "type": "quantitative", "scale": {"domain": [-0.27, 0.66], "nice": false, "zero": false}, "axis": {"values": [-0.2, 0, 0.2, 0.4], "format": ".1f", "title": null, "labelFontSize": 9.5, "labelColor": "#555", "tickSize": 3, "labelPadding": 1}},
                        "y2": {"field": "hi"}}},
          {"data": {"values": [{}]}, "mark": {"type": "rule", "color": "#a8323e", "strokeWidth": 1.5}, "encoding": {"y": {"datum": 0}}},
          {"data": {"name": "sub"}, "transform": [{"filter": "datum.p == 'b' && datum.v == 'D'"}], "mark": {"type": "line", "color": "black", "strokeWidth": 1.6, "strokeDash": [6, 4]}, "encoding": {"x": {"field": "x", "type": "quantitative"}, "y": {"field": "f", "type": "quantitative"}}},
          {"data": {"name": "subann"}, "transform": [{"filter": "datum.p == 'b' && datum.v == 'D'"}], "mark": {"type": "text", "align": "left", "baseline": "top", "lineBreak": "\n", "fontSize": 10.5, "lineHeight": 13, "dy": 1}, "encoding": {"x": {"datum": 0.06}, "y": {"datum": 0.66}, "text": {"field": "t"}}}
        ]},
        {"width": 80, "height": 52, "layer": [
          {"data": {"name": "sub"}, "transform": [{"filter": "datum.p == 'b' && datum.v == 'I'"}], "mark": {"type": "area", "color": "#dadada", "clip": true},
           "encoding": {"x": {"field": "x", "type": "quantitative", "scale": {"domain": [0, 1], "nice": false}, "axis": {"values": [0, 0.5, 1], "format": ".1f", "title": null, "labelFontSize": 9.5, "labelColor": "#555", "tickSize": 3, "labelPadding": 1}},
                        "y": {"field": "lo", "type": "quantitative", "scale": {"domain": [-0.65, 0.25], "nice": false, "zero": false}, "axis": {"values": [-0.4, -0.2, 0, 0.2], "format": ".1f", "title": null, "labelFontSize": 9.5, "labelColor": "#555", "tickSize": 3, "labelPadding": 1}},
                        "y2": {"field": "hi"}}},
          {"data": {"values": [{}]}, "mark": {"type": "rule", "color": "#a8323e", "strokeWidth": 1.5}, "encoding": {"y": {"datum": 0}}},
          {"data": {"name": "sub"}, "transform": [{"filter": "datum.p == 'b' && datum.v == 'I'"}], "mark": {"type": "line", "color": "black", "strokeWidth": 1.6}, "encoding": {"x": {"field": "x", "type": "quantitative"}, "y": {"field": "f", "type": "quantitative"}}},
          {"data": {"name": "subann"}, "transform": [{"filter": "datum.p == 'b' && datum.v == 'I'"}], "mark": {"type": "text", "align": "left", "baseline": "bottom", "lineBreak": "\n", "fontSize": 10.5, "lineHeight": 13, "dy": -4}, "encoding": {"x": {"datum": 0.06}, "y": {"datum": -0.65}, "text": {"field": "t"}}}
        ]}
       ]},
      {"width": 137, "height": 125,
       "title": {"text": "c", "anchor": "start", "frame": "bounds", "offset": -14, "fontSize": 13, "fontWeight": "bold"},
       "layer": [
        {"data": {"name": "pts"}, "transform": [{"filter": "datum.p == 'c'"}], "mark": {"type": "circle", "color": "#888888", "opacity": 0.46, "clip": true},
         "encoding": {"x": {"field": "x", "type": "quantitative", "scale": {"domain": [-75, 168], "nice": false, "zero": false}, "axis": {"values": [-50, 0, 50, 100, 150], "title": null}},
                      "y": {"field": "y", "type": "quantitative", "scale": {"domain": [-62, 107], "nice": false, "zero": false}, "axis": {"values": [-50, 0, 50, 100], "title": "PRE-"}},
                      "size": {"field": "w", "type": "quantitative", "scale": {"domain": [1, 5], "range": [28, 360]}, "legend": null}}},
        {"data": {"values": [{}]}, "mark": {"type": "rule", "strokeDash": [6, 4], "color": "black", "strokeWidth": 1.1}, "encoding": {"y": {"datum": 0}}},
        {"data": {"values": [{}]}, "mark": {"type": "rule", "strokeDash": [6, 4], "color": "black", "strokeWidth": 1.1}, "encoding": {"x": {"datum": 0}}},
        {"data": {"name": "fit"}, "transform": [{"filter": "datum.p == 'c'"}], "mark": {"type": "line", "color": "black", "strokeWidth": 6, "strokeDash": [17, 19], "clip": true}, "encoding": {"x": {"field": "x", "type": "quantitative"}, "y": {"field": "y", "type": "quantitative"}}},
        {"data": {"name": "ann"}, "transform": [{"filter": "datum.p == 'c'"}], "mark": {"type": "text", "align": "left", "baseline": "top", "lineBreak": "\n", "fontSize": 11, "lineHeight": 12.5, "dy": 1}, "encoding": {"x": {"datum": -60}, "y": {"datum": 107}, "text": {"field": "t"}}}
       ]},
      {"title": {"text": "Effects on relationships", "orient": "left", "anchor": "middle", "fontSize": 10.5, "offset": 0},
       "spacing": 4,
       "vconcat": [
        {"width": 80, "height": 62, "layer": [
          {"data": {"name": "sub"}, "transform": [{"filter": "datum.p == 'c' && datum.v == 'D'"}], "mark": {"type": "area", "color": "#dadada", "clip": true},
           "encoding": {"x": {"field": "x", "type": "quantitative", "scale": {"domain": [0, 1], "nice": false}, "axis": {"labels": false, "ticks": false, "title": null}},
                        "y": {"field": "lo", "type": "quantitative", "scale": {"domain": [-0.57, 0.49], "nice": false, "zero": false}, "axis": {"values": [-0.4, -0.2, 0, 0.2, 0.4], "format": ".1f", "title": null, "labelFontSize": 9.5, "labelColor": "#555", "tickSize": 3, "labelPadding": 1}},
                        "y2": {"field": "hi"}}},
          {"data": {"values": [{}]}, "mark": {"type": "rule", "color": "#a8323e", "strokeWidth": 1.5}, "encoding": {"y": {"datum": 0}}},
          {"data": {"name": "sub"}, "transform": [{"filter": "datum.p == 'c' && datum.v == 'D'"}], "mark": {"type": "line", "color": "black", "strokeWidth": 1.6, "strokeDash": [6, 4]}, "encoding": {"x": {"field": "x", "type": "quantitative"}, "y": {"field": "f", "type": "quantitative"}}},
          {"data": {"name": "subann"}, "transform": [{"filter": "datum.p == 'c' && datum.v == 'D'"}], "mark": {"type": "text", "align": "left", "baseline": "bottom", "lineBreak": "\n", "fontSize": 10.5, "lineHeight": 13, "dy": -1}, "encoding": {"x": {"datum": 0.06}, "y": {"datum": -0.57}, "text": {"field": "t"}}}
        ]},
        {"width": 80, "height": 52, "layer": [
          {"data": {"name": "sub"}, "transform": [{"filter": "datum.p == 'c' && datum.v == 'I'"}], "mark": {"type": "area", "color": "#dadada", "clip": true},
           "encoding": {"x": {"field": "x", "type": "quantitative", "scale": {"domain": [0, 1], "nice": false}, "axis": {"values": [0, 0.5, 1], "format": ".1f", "title": null, "labelFontSize": 9.5, "labelColor": "#555", "tickSize": 3, "labelPadding": 1}},
                        "y": {"field": "lo", "type": "quantitative", "scale": {"domain": [-0.43, 0.36], "nice": false, "zero": false}, "axis": {"values": [-0.3, 0, 0.3], "format": ".1f", "title": null, "labelFontSize": 9.5, "labelColor": "#555", "tickSize": 3, "labelPadding": 1}},
                        "y2": {"field": "hi"}}},
          {"data": {"values": [{}]}, "mark": {"type": "rule", "color": "#a8323e", "strokeWidth": 1.5}, "encoding": {"y": {"datum": 0}}},
          {"data": {"name": "sub"}, "transform": [{"filter": "datum.p == 'c' && datum.v == 'I'"}], "mark": {"type": "line", "color": "black", "strokeWidth": 1.6, "strokeDash": [6, 4]}, "encoding": {"x": {"field": "x", "type": "quantitative"}, "y": {"field": "f", "type": "quantitative"}}},
          {"data": {"name": "subann"}, "transform": [{"filter": "datum.p == 'c' && datum.v == 'I'"}], "mark": {"type": "text", "align": "left", "baseline": "bottom", "lineBreak": "\n", "fontSize": 10.5, "lineHeight": 13, "dy": -4}, "encoding": {"x": {"datum": 0.06}, "y": {"datum": -0.43}, "text": {"field": "t"}}}
        ]}
       ]},
      {"width": 138, "height": 125,
       "title": {"text": "d", "anchor": "start", "frame": "bounds", "offset": -14, "fontSize": 13, "fontWeight": "bold"},
       "layer": [
        {"data": {"name": "pts"}, "transform": [{"filter": "datum.p == 'd'"}], "mark": {"type": "circle", "color": "#888888", "opacity": 0.46, "clip": true},
         "encoding": {"x": {"field": "x", "type": "quantitative", "scale": {"domain": [-67, 171], "nice": false, "zero": false}, "axis": {"values": [-50, 0, 50, 100, 150], "title": null}},
                      "y": {"field": "y", "type": "quantitative", "scale": {"domain": [-67, 153], "nice": false, "zero": false}, "axis": {"values": [-50, 0, 50, 100, 150], "title": "PRE+"}},
                      "size": {"field": "w", "type": "quantitative", "scale": {"domain": [1, 5], "range": [28, 360]}, "legend": null}}},
        {"data": {"values": [{}]}, "mark": {"type": "rule", "strokeDash": [6, 4], "color": "black", "strokeWidth": 1.1}, "encoding": {"y": {"datum": 0}}},
        {"data": {"values": [{}]}, "mark": {"type": "rule", "strokeDash": [6, 4], "color": "black", "strokeWidth": 1.1}, "encoding": {"x": {"datum": 0}}},
        {"data": {"name": "fit"}, "transform": [{"filter": "datum.p == 'd'"}], "mark": {"type": "line", "color": "black", "strokeWidth": 5.5, "clip": true}, "encoding": {"x": {"field": "x", "type": "quantitative"}, "y": {"field": "y", "type": "quantitative"}}},
        {"data": {"name": "ann"}, "transform": [{"filter": "datum.p == 'd'"}], "mark": {"type": "text", "align": "left", "baseline": "top", "lineBreak": "\n", "fontSize": 11, "lineHeight": 12.5, "dy": 1}, "encoding": {"x": {"datum": -57}, "y": {"datum": 153}, "text": {"field": "t"}}}
       ]},
      {"title": {"text": "Effects on relationships", "orient": "left", "anchor": "middle", "fontSize": 10.5, "offset": 0},
       "spacing": 4,
       "vconcat": [
        {"width": 80, "height": 62, "layer": [
          {"data": {"name": "sub"}, "transform": [{"filter": "datum.p == 'd' && datum.v == 'D'"}], "mark": {"type": "area", "color": "#dadada", "clip": true},
           "encoding": {"x": {"field": "x", "type": "quantitative", "scale": {"domain": [0, 1], "nice": false}, "axis": {"labels": false, "ticks": false, "title": null}},
                        "y": {"field": "lo", "type": "quantitative", "scale": {"domain": [-0.72, 0.68], "nice": false, "zero": false}, "axis": {"values": [-0.5, 0, 0.5], "format": ".1f", "title": null, "labelFontSize": 9.5, "labelColor": "#555", "tickSize": 3, "labelPadding": 1}},
                        "y2": {"field": "hi"}}},
          {"data": {"values": [{}]}, "mark": {"type": "rule", "color": "#a8323e", "strokeWidth": 1.5}, "encoding": {"y": {"datum": 0}}},
          {"data": {"name": "sub"}, "transform": [{"filter": "datum.p == 'd' && datum.v == 'D'"}], "mark": {"type": "line", "color": "black", "strokeWidth": 1.6, "strokeDash": [6, 4]}, "encoding": {"x": {"field": "x", "type": "quantitative"}, "y": {"field": "f", "type": "quantitative"}}},
          {"data": {"name": "subann"}, "transform": [{"filter": "datum.p == 'd' && datum.v == 'D'"}], "mark": {"type": "text", "align": "left", "baseline": "bottom", "lineBreak": "\n", "fontSize": 10.5, "lineHeight": 13, "dy": -1}, "encoding": {"x": {"datum": 0.06}, "y": {"datum": -0.72}, "text": {"field": "t"}}}
        ]},
        {"width": 80, "height": 52, "layer": [
          {"data": {"name": "sub"}, "transform": [{"filter": "datum.p == 'd' && datum.v == 'I'"}], "mark": {"type": "area", "color": "#dadada", "clip": true},
           "encoding": {"x": {"field": "x", "type": "quantitative", "scale": {"domain": [0, 1], "nice": false}, "axis": {"values": [0, 0.5, 1], "format": ".1f", "title": null, "labelFontSize": 9.5, "labelColor": "#555", "tickSize": 3, "labelPadding": 1}},
                        "y": {"field": "lo", "type": "quantitative", "scale": {"domain": [-0.69, 0.34], "nice": false, "zero": false}, "axis": {"values": [-0.6, -0.3, 0, 0.3], "format": ".1f", "title": null, "labelFontSize": 9.5, "labelColor": "#555", "tickSize": 3, "labelPadding": 1}},
                        "y2": {"field": "hi"}}},
          {"data": {"values": [{}]}, "mark": {"type": "rule", "color": "#a8323e", "strokeWidth": 1.5}, "encoding": {"y": {"datum": 0}}},
          {"data": {"name": "sub"}, "transform": [{"filter": "datum.p == 'd' && datum.v == 'I'"}], "mark": {"type": "line", "color": "black", "strokeWidth": 1.6, "strokeDash": [6, 4]}, "encoding": {"x": {"field": "x", "type": "quantitative"}, "y": {"field": "f", "type": "quantitative"}}},
          {"data": {"name": "subann"}, "transform": [{"filter": "datum.p == 'd' && datum.v == 'I'"}], "mark": {"type": "text", "align": "left", "baseline": "bottom", "lineBreak": "\n", "fontSize": 10.5, "lineHeight": 13, "dy": -4}, "encoding": {"x": {"datum": 0.06}, "y": {"datum": -0.69}, "text": {"field": "t"}}}
        ]}
       ]},
      {"width": 137, "height": 125,
       "title": {"text": "e", "anchor": "start", "frame": "bounds", "offset": -14, "fontSize": 13, "fontWeight": "bold"},
       "layer": [
        {"data": {"name": "pts"}, "transform": [{"filter": "datum.p == 'e'"}], "mark": {"type": "circle", "color": "#888888", "opacity": 0.46, "clip": true},
         "encoding": {"x": {"field": "x", "type": "quantitative", "scale": {"domain": [-75, 173], "nice": false, "zero": false}, "axis": {"values": [-50, 0, 50, 100, 150], "title": null}},
                      "y": {"field": "y", "type": "quantitative", "scale": {"domain": [-61, 159], "nice": false, "zero": false}, "axis": {"values": [-50, 0, 50, 100, 150], "title": "N"}},
                      "size": {"field": "w", "type": "quantitative", "scale": {"domain": [1, 5], "range": [28, 360]}, "legend": null}}},
        {"data": {"values": [{}]}, "mark": {"type": "rule", "strokeDash": [6, 4], "color": "black", "strokeWidth": 1.1}, "encoding": {"y": {"datum": 0}}},
        {"data": {"values": [{}]}, "mark": {"type": "rule", "strokeDash": [6, 4], "color": "black", "strokeWidth": 1.1}, "encoding": {"x": {"datum": 0}}},
        {"data": {"name": "fit"}, "transform": [{"filter": "datum.p == 'e'"}], "mark": {"type": "line", "color": "black", "strokeWidth": 6, "strokeDash": [17, 19], "clip": true}, "encoding": {"x": {"field": "x", "type": "quantitative"}, "y": {"field": "y", "type": "quantitative"}}},
        {"data": {"name": "ann"}, "transform": [{"filter": "datum.p == 'e'"}], "mark": {"type": "text", "align": "left", "baseline": "top", "lineBreak": "\n", "fontSize": 11, "lineHeight": 12.5, "dy": 1}, "encoding": {"x": {"datum": -66}, "y": {"datum": 159}, "text": {"field": "t"}}}
       ]},
      {"title": {"text": "Effects on relationships", "orient": "left", "anchor": "middle", "fontSize": 10.5, "offset": 0},
       "spacing": 4,
       "vconcat": [
        {"width": 80, "height": 62, "layer": [
          {"data": {"name": "sub"}, "transform": [{"filter": "datum.p == 'e' && datum.v == 'D'"}], "mark": {"type": "area", "color": "#dadada", "clip": true},
           "encoding": {"x": {"field": "x", "type": "quantitative", "scale": {"domain": [0, 1], "nice": false}, "axis": {"labels": false, "ticks": false, "title": null}},
                        "y": {"field": "lo", "type": "quantitative", "scale": {"domain": [-0.85, 2.2], "nice": false, "zero": false}, "axis": {"values": [-0.5, 0, 0.5, 1, 1.5], "format": ".1f", "title": null, "labelFontSize": 9.5, "labelColor": "#555", "tickSize": 3, "labelPadding": 1}},
                        "y2": {"field": "hi"}}},
          {"data": {"values": [{}]}, "mark": {"type": "rule", "color": "#a8323e", "strokeWidth": 1.5}, "encoding": {"y": {"datum": 0}}},
          {"data": {"name": "sub"}, "transform": [{"filter": "datum.p == 'e' && datum.v == 'D'"}], "mark": {"type": "line", "color": "black", "strokeWidth": 1.6, "strokeDash": [6, 4]}, "encoding": {"x": {"field": "x", "type": "quantitative"}, "y": {"field": "f", "type": "quantitative"}}},
          {"data": {"name": "subann"}, "transform": [{"filter": "datum.p == 'e' && datum.v == 'D'"}], "mark": {"type": "text", "align": "left", "baseline": "top", "lineBreak": "\n", "fontSize": 10.5, "lineHeight": 13, "dy": 1}, "encoding": {"x": {"datum": 0.06}, "y": {"datum": 2.2}, "text": {"field": "t"}}}
        ]},
        {"width": 80, "height": 52, "layer": [
          {"data": {"name": "sub"}, "transform": [{"filter": "datum.p == 'e' && datum.v == 'I'"}], "mark": {"type": "area", "color": "#dadada", "clip": true},
           "encoding": {"x": {"field": "x", "type": "quantitative", "scale": {"domain": [0, 1], "nice": false}, "axis": {"values": [0, 0.5, 1], "format": ".1f", "title": null, "labelFontSize": 9.5, "labelColor": "#555", "tickSize": 3, "labelPadding": 1}},
                        "y": {"field": "lo", "type": "quantitative", "scale": {"domain": [-0.37, 0.3], "nice": false, "zero": false}, "axis": {"values": [-0.2, 0, 0.2], "format": ".1f", "title": null, "labelFontSize": 9.5, "labelColor": "#555", "tickSize": 3, "labelPadding": 1}},
                        "y2": {"field": "hi"}}},
          {"data": {"values": [{}]}, "mark": {"type": "rule", "color": "#a8323e", "strokeWidth": 1.5}, "encoding": {"y": {"datum": 0}}},
          {"data": {"name": "sub"}, "transform": [{"filter": "datum.p == 'e' && datum.v == 'I'"}], "mark": {"type": "line", "color": "black", "strokeWidth": 1.6, "strokeDash": [6, 4]}, "encoding": {"x": {"field": "x", "type": "quantitative"}, "y": {"field": "f", "type": "quantitative"}}},
          {"data": {"name": "subann"}, "transform": [{"filter": "datum.p == 'e' && datum.v == 'I'"}], "mark": {"type": "text", "align": "left", "baseline": "bottom", "lineBreak": "\n", "fontSize": 10.5, "lineHeight": 13, "dy": -4}, "encoding": {"x": {"datum": 0.06}, "y": {"datum": -0.37}, "text": {"field": "t"}}}
        ]}
       ]},
      {"width": 138, "height": 125,
       "title": {"text": "f", "anchor": "start", "frame": "bounds", "offset": -14, "fontSize": 13, "fontWeight": "bold"},
       "layer": [
        {"data": {"name": "pts"}, "transform": [{"filter": "datum.p == 'f'"}], "mark": {"type": "circle", "color": "#888888", "opacity": 0.46, "clip": true},
         "encoding": {"x": {"field": "x", "type": "quantitative", "scale": {"domain": [-67, 171], "nice": false, "zero": false}, "axis": {"values": [-50, 0, 50, 100, 150], "title": null}},
                      "y": {"field": "y", "type": "quantitative", "scale": {"domain": [-52, 135], "nice": false, "zero": false}, "axis": {"values": [-50, 0, 50, 100], "title": "P"}},
                      "size": {"field": "w", "type": "quantitative", "scale": {"domain": [1, 5], "range": [28, 360]}, "legend": null}}},
        {"data": {"values": [{}]}, "mark": {"type": "rule", "strokeDash": [6, 4], "color": "black", "strokeWidth": 1.1}, "encoding": {"y": {"datum": 0}}},
        {"data": {"values": [{}]}, "mark": {"type": "rule", "strokeDash": [6, 4], "color": "black", "strokeWidth": 1.1}, "encoding": {"x": {"datum": 0}}},
        {"data": {"name": "fit"}, "transform": [{"filter": "datum.p == 'f'"}], "mark": {"type": "line", "color": "black", "strokeWidth": 6, "strokeDash": [17, 19], "clip": true}, "encoding": {"x": {"field": "x", "type": "quantitative"}, "y": {"field": "y", "type": "quantitative"}}},
        {"data": {"name": "ann"}, "transform": [{"filter": "datum.p == 'f'"}], "mark": {"type": "text", "align": "left", "baseline": "top", "lineBreak": "\n", "fontSize": 11, "lineHeight": 12.5, "dy": 1}, "encoding": {"x": {"datum": -55}, "y": {"datum": 135}, "text": {"field": "t"}}}
       ]},
      {"title": {"text": "Effects on relationships", "orient": "left", "anchor": "middle", "fontSize": 10.5, "offset": 0},
       "spacing": 4,
       "vconcat": [
        {"width": 80, "height": 62, "layer": [
          {"data": {"name": "sub"}, "transform": [{"filter": "datum.p == 'f' && datum.v == 'D'"}], "mark": {"type": "area", "color": "#dadada", "clip": true},
           "encoding": {"x": {"field": "x", "type": "quantitative", "scale": {"domain": [0, 1], "nice": false}, "axis": {"labels": false, "ticks": false, "title": null}},
                        "y": {"field": "lo", "type": "quantitative", "scale": {"domain": [-0.69, 0.31], "nice": false, "zero": false}, "axis": {"values": [-0.4, -0.2, 0, 0.2], "format": ".1f", "title": null, "labelFontSize": 9.5, "labelColor": "#555", "tickSize": 3, "labelPadding": 1}},
                        "y2": {"field": "hi"}}},
          {"data": {"values": [{}]}, "mark": {"type": "rule", "color": "#a8323e", "strokeWidth": 1.5}, "encoding": {"y": {"datum": 0}}},
          {"data": {"name": "sub"}, "transform": [{"filter": "datum.p == 'f' && datum.v == 'D'"}], "mark": {"type": "line", "color": "black", "strokeWidth": 1.6, "strokeDash": [6, 4]}, "encoding": {"x": {"field": "x", "type": "quantitative"}, "y": {"field": "f", "type": "quantitative"}}},
          {"data": {"name": "subann"}, "transform": [{"filter": "datum.p == 'f' && datum.v == 'D'"}], "mark": {"type": "text", "align": "left", "baseline": "bottom", "lineBreak": "\n", "fontSize": 10.5, "lineHeight": 13, "dy": -1}, "encoding": {"x": {"datum": 0.06}, "y": {"datum": -0.69}, "text": {"field": "t"}}}
        ]},
        {"width": 80, "height": 52, "layer": [
          {"data": {"name": "sub"}, "transform": [{"filter": "datum.p == 'f' && datum.v == 'I'"}], "mark": {"type": "area", "color": "#dadada", "clip": true},
           "encoding": {"x": {"field": "x", "type": "quantitative", "scale": {"domain": [0, 1], "nice": false}, "axis": {"values": [0, 0.5, 1], "format": ".1f", "title": null, "labelFontSize": 9.5, "labelColor": "#555", "tickSize": 3, "labelPadding": 1}},
                        "y": {"field": "lo", "type": "quantitative", "scale": {"domain": [-0.42, 0.22], "nice": false, "zero": false}, "axis": {"values": [-0.2, 0, 0.2], "format": ".1f", "title": null, "labelFontSize": 9.5, "labelColor": "#555", "tickSize": 3, "labelPadding": 1}},
                        "y2": {"field": "hi"}}},
          {"data": {"values": [{}]}, "mark": {"type": "rule", "color": "#a8323e", "strokeWidth": 1.5}, "encoding": {"y": {"datum": 0}}},
          {"data": {"name": "sub"}, "transform": [{"filter": "datum.p == 'f' && datum.v == 'I'"}], "mark": {"type": "line", "color": "black", "strokeWidth": 1.6, "strokeDash": [6, 4]}, "encoding": {"x": {"field": "x", "type": "quantitative"}, "y": {"field": "f", "type": "quantitative"}}},
          {"data": {"name": "subann"}, "transform": [{"filter": "datum.p == 'f' && datum.v == 'I'"}], "mark": {"type": "text", "align": "left", "baseline": "bottom", "lineBreak": "\n", "fontSize": 10.5, "lineHeight": 13, "dy": -4}, "encoding": {"x": {"datum": 0.06}, "y": {"datum": -0.42}, "text": {"field": "t"}}}
        ]}
       ]},
      {"width": 137, "height": 125,
       "title": {"text": "g", "anchor": "start", "frame": "bounds", "offset": -14, "fontSize": 13, "fontWeight": "bold"},
       "layer": [
        {"data": {"name": "pts"}, "transform": [{"filter": "datum.p == 'g'"}], "mark": {"type": "circle", "color": "#888888", "opacity": 0.46, "clip": true},
         "encoding": {"x": {"field": "x", "type": "quantitative", "scale": {"domain": [-73, 170], "nice": false, "zero": false}, "axis": {"values": [-50, 0, 50, 100, 150], "title": null}},
                      "y": {"field": "y", "type": "quantitative", "scale": {"domain": [-62, 143], "nice": false, "zero": false}, "axis": {"values": [-50, 0, 50, 100], "title": "N+P"}},
                      "size": {"field": "w", "type": "quantitative", "scale": {"domain": [1, 5], "range": [28, 360]}, "legend": null}}},
        {"data": {"values": [{}]}, "mark": {"type": "rule", "strokeDash": [6, 4], "color": "black", "strokeWidth": 1.1}, "encoding": {"y": {"datum": 0}}},
        {"data": {"values": [{}]}, "mark": {"type": "rule", "strokeDash": [6, 4], "color": "black", "strokeWidth": 1.1}, "encoding": {"x": {"datum": 0}}},
        {"data": {"name": "fit"}, "transform": [{"filter": "datum.p == 'g'"}], "mark": {"type": "line", "color": "black", "strokeWidth": 6, "strokeDash": [17, 19], "clip": true}, "encoding": {"x": {"field": "x", "type": "quantitative"}, "y": {"field": "y", "type": "quantitative"}}},
        {"data": {"name": "ann"}, "transform": [{"filter": "datum.p == 'g'"}], "mark": {"type": "text", "align": "left", "baseline": "top", "lineBreak": "\n", "fontSize": 11, "lineHeight": 12.5, "dy": 1}, "encoding": {"x": {"datum": -60}, "y": {"datum": 143}, "text": {"field": "t"}}}
       ]},
      {"title": {"text": "Effects on relationships", "orient": "left", "anchor": "middle", "fontSize": 10.5, "offset": 0},
       "spacing": 4,
       "vconcat": [
        {"width": 80, "height": 62, "layer": [
          {"data": {"name": "sub"}, "transform": [{"filter": "datum.p == 'g' && datum.v == 'D'"}], "mark": {"type": "area", "color": "#dadada", "clip": true},
           "encoding": {"x": {"field": "x", "type": "quantitative", "scale": {"domain": [0, 1], "nice": false}, "axis": {"labels": false, "ticks": false, "title": null}},
                        "y": {"field": "lo", "type": "quantitative", "scale": {"domain": [-0.66, 0.25], "nice": false, "zero": false}, "axis": {"values": [-0.4, -0.2, 0, 0.2], "format": ".1f", "title": null, "labelFontSize": 9.5, "labelColor": "#555", "tickSize": 3, "labelPadding": 1}},
                        "y2": {"field": "hi"}}},
          {"data": {"values": [{}]}, "mark": {"type": "rule", "color": "#a8323e", "strokeWidth": 1.5}, "encoding": {"y": {"datum": 0}}},
          {"data": {"name": "sub"}, "transform": [{"filter": "datum.p == 'g' && datum.v == 'D'"}], "mark": {"type": "line", "color": "black", "strokeWidth": 1.6, "strokeDash": [6, 4]}, "encoding": {"x": {"field": "x", "type": "quantitative"}, "y": {"field": "f", "type": "quantitative"}}},
          {"data": {"name": "subann"}, "transform": [{"filter": "datum.p == 'g' && datum.v == 'D'"}], "mark": {"type": "text", "align": "left", "baseline": "bottom", "lineBreak": "\n", "fontSize": 10.5, "lineHeight": 13, "dy": -1}, "encoding": {"x": {"datum": 0.06}, "y": {"datum": -0.66}, "text": {"field": "t"}}}
        ]},
        {"width": 80, "height": 52, "layer": [
          {"data": {"name": "sub"}, "transform": [{"filter": "datum.p == 'g' && datum.v == 'I'"}], "mark": {"type": "area", "color": "#dadada", "clip": true},
           "encoding": {"x": {"field": "x", "type": "quantitative", "scale": {"domain": [0, 1], "nice": false}, "axis": {"values": [0, 0.5, 1], "format": ".1f", "title": null, "labelFontSize": 9.5, "labelColor": "#555", "tickSize": 3, "labelPadding": 1}},
                        "y": {"field": "lo", "type": "quantitative", "scale": {"domain": [-0.13, 0.26], "nice": false, "zero": false}, "axis": {"values": [-0.1, 0, 0.1, 0.2], "format": ".1f", "title": null, "labelFontSize": 9.5, "labelColor": "#555", "tickSize": 3, "labelPadding": 1}},
                        "y2": {"field": "hi"}}},
          {"data": {"values": [{}]}, "mark": {"type": "rule", "color": "#a8323e", "strokeWidth": 1.5}, "encoding": {"y": {"datum": 0}}},
          {"data": {"name": "sub"}, "transform": [{"filter": "datum.p == 'g' && datum.v == 'I'"}], "mark": {"type": "line", "color": "black", "strokeWidth": 1.6, "strokeDash": [6, 4]}, "encoding": {"x": {"field": "x", "type": "quantitative"}, "y": {"field": "f", "type": "quantitative"}}},
          {"data": {"name": "subann"}, "transform": [{"filter": "datum.p == 'g' && datum.v == 'I'"}], "mark": {"type": "text", "align": "left", "baseline": "top", "lineBreak": "\n", "fontSize": 10.5, "lineHeight": 13, "dy": 1}, "encoding": {"x": {"datum": 0.06}, "y": {"datum": 0.26}, "text": {"field": "t"}}}
        ]}
       ]}
     ]}
   ]}
 ]},
 {"width": 748, "height": 100,
  "layer": [
   {"data": {"name": "cap"}, "mark": {"type": "text", "align": "left", "baseline": "middle", "font": "Liberation Serif", "fontSize": 11.5, "color": "#231f20"},
    "encoding": {"x": {"field": "c", "type": "quantitative", "scale": {"domain": [0, 1], "range": [0, 393]}, "axis": null},
                 "y": {"field": "l", "type": "quantitative", "scale": {"domain": [1, 8], "range": [0, 100]}, "axis": null},
                 "text": {"field": "t"}}},
   {"data": {"name": "caphead"}, "mark": {"type": "text", "align": "left", "baseline": "middle", "font": "Liberation Serif", "fontSize": 11.5, "fontWeight": "bold", "color": "#231f20"},
    "encoding": {"x": {"field": "c", "type": "quantitative"}, "y": {"field": "l", "type": "quantitative"}, "text": {"field": "t"}}},
   {"data": {"name": "capcont"}, "mark": {"type": "text", "align": "left", "baseline": "middle", "font": "Liberation Serif", "fontSize": 11.5, "color": "#231f20", "dx": 116},
    "encoding": {"x": {"field": "c", "type": "quantitative"}, "y": {"field": "l", "type": "quantitative"}, "text": {"field": "t"}}}
  ]}
]
}
